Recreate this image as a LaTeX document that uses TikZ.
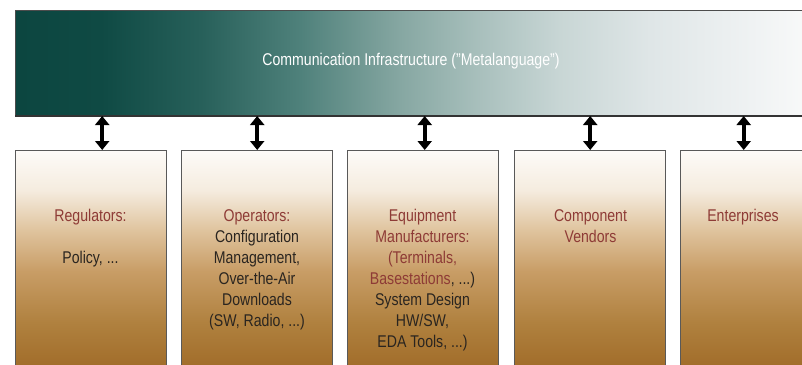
\documentclass[tikz,border=0pt]{standalone}
\usepackage{fontspec}
\setmainfont{Liberation Sans}[FakeStretch=0.83]
\usetikzlibrary{arrows.meta, positioning}
\definecolor{titlered}{HTML}{8E3B36}
\definecolor{bodygrey}{HTML}{2A2520}
\definecolor{tealA}{HTML}{0C4640}
\definecolor{tealB}{HTML}{0F4A44}
\definecolor{tealC}{HTML}{27605A}
\definecolor{tealD}{HTML}{4F817B}
\definecolor{tealE}{HTML}{86A7A2}
\definecolor{tealF}{HTML}{A9C0BD}
\definecolor{tealG}{HTML}{C8D6D5}
\definecolor{tealH}{HTML}{DFE6E7}
\definecolor{tealI}{HTML}{EFF2F3}
\definecolor{tealJ}{HTML}{F8F9F9}
\definecolor{brownA}{HTML}{A06B28}
\definecolor{brownB}{HTML}{B0813F}
\definecolor{brownC}{HTML}{C89D66}
\definecolor{brownD}{HTML}{DFC39D}
\definecolor{brownE}{HTML}{F5ECDF}
\definecolor{brownF}{HTML}{FDFBF8}
\pgfdeclarehorizontalshading{infrashade}{100bp}{color(0bp)=(tealA); color(25bp)=(tealA);
  color(30.4bp)=(tealB); color(36.7bp)=(tealC); color(43bp)=(tealD); color(49.3bp)=(tealE);
  color(54.4bp)=(tealF); color(59.4bp)=(tealG); color(65.1bp)=(tealH); color(71.5bp)=(tealI);
  color(75bp)=(tealJ); color(100bp)=(tealJ)}
\pgfdeclareverticalshading{boxshade}{100bp}{color(0bp)=(brownA); color(25bp)=(brownA);
  color(36bp)=(brownB); color(47.6bp)=(brownC); color(56.8bp)=(brownD); color(66bp)=(brownE);
  color(75bp)=(brownF); color(100bp)=(brownF)}
\tikzset{%
	infra bar/.style={
		draw=black!70,
		line width=1pt,
		shading=infrashade,
		minimum width=791pt,
		minimum height=105pt,
		inner sep=0pt,
		anchor=north west
	},
	player box/.style={
		draw=black!65,
		line width=1.4pt,
		shading=boxshade,
		minimum width=151pt,
		minimum height=220pt,
		inner sep=0pt,
		anchor=north west
	},
	player text/.style={
		font=\fontsize{17}{21}\selectfont,
		text=bodygrey,
		align=center,
		inner sep=0pt,
		anchor=north
	},
	link/.style={
		line width=4pt,
		{Triangle[width=14pt,length=9pt]}-{Triangle[width=14pt,length=9pt]}
	},
}

\begin{document}
\begin{tikzpicture}[x=1pt, y=-1pt]
			\useasboundingbox (0,0) rectangle (802,364);
			\clip (0,0) rectangle (802,364);

			\node[infra bar] (infra) at (15,10) {};
			\draw[black!80, line width=2pt] (infra.south west) -- (infra.south east);
			\node[font=\fontsize{17}{20}\selectfont, text=white] (infralab) at (411,61)
				{Communication Infrastructure (''Metalanguage'')};

			\node[player box] (reg) at (15,150) {};
			\node[player box] (oper) at (181,150) {};
			\node[player box] (equip) at (347,150) {};
			\node[player box] (comp) at (514,150) {};
			\node[player box, minimum width=126pt] (ent) at (680,150) {};

			\node[player text] (reglab) at (90.5,209) {\color{titlered}Regulators:\\[21pt]Policy, ...};
			\node[player text] (operlab) at (257,209) {\color{titlered}Operators:\\Configuration\\Management,\\Over-the-Air\\Downloads\\(SW, Radio, ...)};
			\node[player text] (equiplab) at (422.5,209) {\color{titlered}Equipment\\\color{titlered}Manufacturers:\\\color{titlered}(Terminals,\\{\color{titlered}Basestations}, ...)\\System Design\\HW/SW,\\EDA Tools, ...)};
			\node[player text] (complab) at (590.5,209) {\color{titlered}Component\\\color{titlered}Vendors};
			\node[player text] (entlab) at (743,209) {\color{titlered}Enterprises};

			\coordinate (regtop) at ([xshift=11pt]reg.north);
			\coordinate (opertop) at (oper.north);
			\coordinate (equiptop) at ([xshift=1.5pt]equip.north);
			\coordinate (comptop) at (comp.north);
			\coordinate (enttop) at (ent.north);

			\draw[link] (infra.south -| regtop) -- (regtop);
			\draw[link] (infra.south -| opertop) -- (opertop);
			\draw[link] (infra.south -| equiptop) -- (equiptop);
			\draw[link] (infra.south -| comptop) -- (comptop);
			\draw[link] (infra.south -| enttop) -- (enttop);

		\end{tikzpicture}
\end{document}
